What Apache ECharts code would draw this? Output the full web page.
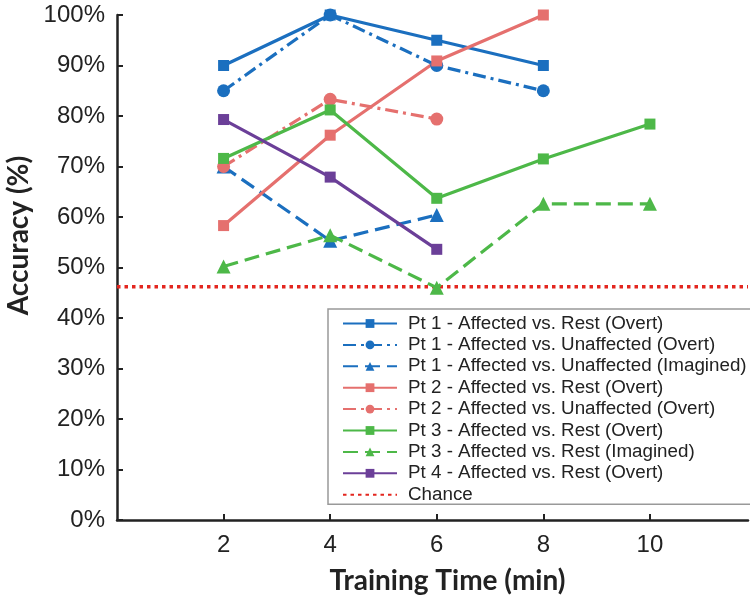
<!DOCTYPE html>
<html>
<head>
<meta charset="utf-8">
<script src="https://cdn.jsdelivr.net/npm/echarts@6/dist/echarts.min.js"></script>
<style>html,body{margin:0;padding:0;background:#fff}#c{width:750px;height:603px}</style>
</head>
<body>
<div id="c"></div>
<script>
const xTicks = [2, 4, 6, 8, 10];
const p1Rest = [[2, 90], [4, 100], [6, 95], [8, 90]];
const p1UnOvert = [[2, 85], [4, 100], [6, 90], [8, 85]];
const p1UnImag = [[2, 70], [4, 55.3], [6, 60.4]];
const p2Rest = [[2, 58.3], [4, 76.2], [6, 90.9], [8, 100]];
const p2UnOvert = [[2, 70], [4, 83.3], [6, 79.4]];
const p3Rest = [[2, 71.6], [4, 81.2], [6, 63.7], [8, 71.5], [10, 78.4]];
const p3Imag = [[2, 50.2], [4, 56.4], [6, 46], [8, 62.6], [10, 62.6]];
const p4Rest = [[2, 79.3], [4, 67.9], [6, 53.6]];
const chanceLevel = 46.2;
const xMin = 0, xMax = 11.84;
const chance = [[xMin, chanceLevel], [xMax, chanceLevel]];
const names = [
  'Pt 1 - Affected vs. Rest (Overt)',
  'Pt 1 - Affected vs. Unaffected (Overt)',
  'Pt 1 - Affected vs. Unaffected (Imagined)',
  'Pt 2 - Affected vs. Rest (Overt)',
  'Pt 2 - Affected vs. Unaffected (Overt)',
  'Pt 3 - Affected vs. Rest (Overt)',
  'Pt 3 - Affected vs. Rest (Imagined)',
  'Pt 4 - Affected vs. Rest (Overt)',
  'Chance'
];
const BLUE = '#1b6fbf', PINK = '#e5706e', GREEN = '#4db848', PURPLE = '#6b3f98', RED = '#e3261f';
const DASHDOT = [13, 5, 3, 5], DASH = [15, 7];
function mk(name, data, color, symbol, size, type) {
  return {
    name: name, type: 'line', data: data, symbol: symbol, symbolSize: size,
    lineStyle: { color: color, width: 3.2, type: type },
    itemStyle: { color: color },
    emphasis: { disabled: true }, z: 3
  };
}
const legendData = names.map(function (n) {
  return n === 'Chance' ? { name: n, itemStyle: { opacity: 0 } } : { name: n };
});
const chart = echarts.init(document.getElementById('c'));
chart.setOption({
  animation: false,
  backgroundColor: '#fff',
  grid: { left: 117, right: 2, top: 15, bottom: 83, containLabel: false, outerBoundsMode: 'none' },
  xAxis: {
    type: 'value', min: xMin, max: xMax, interval: 2,
    name: 'Training Time (min)', nameLocation: 'middle', nameGap: 47,
    nameTextStyle: { fontFamily: 'Lato', fontWeight: 'bold', fontSize: 28, color: '#222', padding: [0, 0, 0, 30] },
    axisLine: { lineStyle: { color: '#222', width: 2.5 } },
    axisTick: { inside: true, length: 6, lineStyle: { color: '#222', width: 2 } },
    axisLabel: {
      margin: 13, fontFamily: 'Liberation Sans', fontSize: 24, color: '#222',
      showMaxLabel: false, showMinLabel: false,
      formatter: function (v) { return xTicks.indexOf(v) >= 0 ? String(v) : ''; }
    },
    splitLine: { show: false }
  },
  yAxis: {
    type: 'value', min: 0, max: 100, interval: 10,
    name: 'Accuracy (%)', nameLocation: 'middle', nameGap: 80,
    nameTextStyle: { fontFamily: 'Lato', fontWeight: 'bold', fontSize: 28, color: '#222', padding: [0, 0, 0, 64] },
    axisLine: { show: true, lineStyle: { color: '#222', width: 2.5 } },
    axisTick: { show: true, inside: true, length: 6, lineStyle: { color: '#222', width: 2 } },
    axisLabel: { margin: 12, fontFamily: 'Liberation Sans', fontSize: 24, color: '#222', formatter: '{value}%' },
    splitLine: { show: false }
  },
  legend: {
    orient: 'vertical', left: 328, top: 309,
    data: legendData,
    itemWidth: 54, itemHeight: 11, itemGap: 2.4,
    padding: [5, 10, 0, 14],
    borderColor: '#999', borderWidth: 1.5, backgroundColor: '#fff',
    textStyle: { fontFamily: 'Liberation Sans', fontSize: 18.8, lineHeight: 18, color: '#222', padding: [0, 0, 0, 6] },
    selectedMode: false
  },
  series: [
    mk(names[0], p1Rest, BLUE, 'rect', 11, 'solid'),
    mk(names[1], p1UnOvert, BLUE, 'circle', 13, DASHDOT),
    mk(names[2], p1UnImag, BLUE, 'triangle', 14, DASH),
    mk(names[3], p2Rest, PINK, 'rect', 11, 'solid'),
    mk(names[4], p2UnOvert, PINK, 'circle', 13, DASHDOT),
    mk(names[5], p3Rest, GREEN, 'rect', 11, 'solid'),
    mk(names[6], p3Imag, GREEN, 'triangle', 14, DASH),
    mk(names[7], p4Rest, PURPLE, 'rect', 11, 'solid'),
    {
      name: names[8], type: 'line', data: chance, symbol: 'none',
      lineStyle: { color: RED, width: 3.5, type: [3.5, 4] },
      itemStyle: { color: RED }, emphasis: { disabled: true }, z: 2
    }
  ]
});
</script>
</body>
</html>
